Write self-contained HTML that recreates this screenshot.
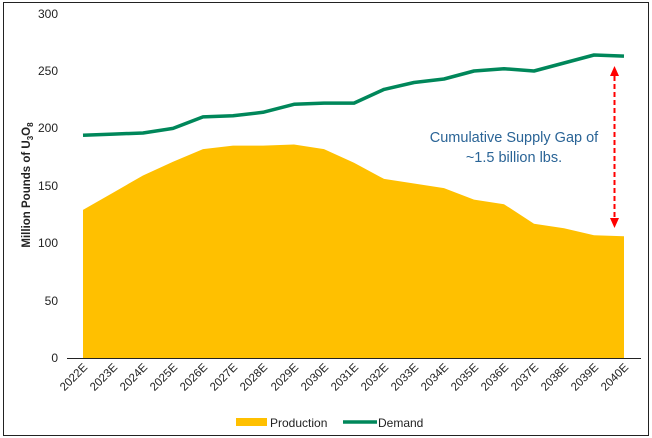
<!DOCTYPE html>
<html><head><style>body{margin:0;background:#fff}svg{display:block}</style></head>
<body>
<svg width="652" height="438" xmlns="http://www.w3.org/2000/svg" font-family="Liberation Sans, Arial, sans-serif">
<rect x="3.5" y="2.5" width="645" height="433" fill="#fff" stroke="#222" stroke-width="1"/>
<polygon fill="#FFC000" points="83,358 83,209.9 113,192.7 143,175.5 173,161.7 203,149.1 233,145.6 263,145.6 294,144.5 324,149.1 354,162.8 384,178.9 414,183.5 444,188.1 474,199.6 504,204.2 534,223.7 564,228.3 594,235.2 624,236.3 624,358"/>
<polyline fill="none" stroke="#00875A" stroke-width="3.5" stroke-linejoin="round" points="83,135.3 113,134.1 143,133 173,128.4 203,116.9 233,115.8 263,112.3 294,104.3 324,103.1 354,103.1 384,89.4 414,82.5 444,79 474,71 504,68.7 534,71 564,63 594,55 624,56.1"/>
<line x1="67" y1="358.5" x2="641" y2="358.5" stroke="#222" stroke-width="1"/>
<g font-size="12" fill="#222" text-anchor="end">
<text x="58" y="362">0</text><text x="58" y="305">50</text><text x="58" y="247">100</text><text x="58" y="190">150</text><text x="58" y="132">200</text><text x="58" y="75">250</text><text x="58" y="18">300</text>
</g>
<text transform="translate(30,185) rotate(-90)" font-size="11.5" font-weight="bold" fill="#222" text-anchor="middle">Million Pounds of U<tspan font-size="8" dy="3">3</tspan><tspan dy="-3">O</tspan><tspan font-size="8" dy="3">8</tspan></text>
<g font-size="11.5" fill="#222" text-anchor="end">
<text transform="translate(88,368) rotate(-45)">2022E</text>
<text transform="translate(118,368) rotate(-45)">2023E</text>
<text transform="translate(148,368) rotate(-45)">2024E</text>
<text transform="translate(178,368) rotate(-45)">2025E</text>
<text transform="translate(208,368) rotate(-45)">2026E</text>
<text transform="translate(238,368) rotate(-45)">2027E</text>
<text transform="translate(268,368) rotate(-45)">2028E</text>
<text transform="translate(299,368) rotate(-45)">2029E</text>
<text transform="translate(329,368) rotate(-45)">2030E</text>
<text transform="translate(359,368) rotate(-45)">2031E</text>
<text transform="translate(389,368) rotate(-45)">2032E</text>
<text transform="translate(419,368) rotate(-45)">2033E</text>
<text transform="translate(449,368) rotate(-45)">2034E</text>
<text transform="translate(479,368) rotate(-45)">2035E</text>
<text transform="translate(509,368) rotate(-45)">2036E</text>
<text transform="translate(539,368) rotate(-45)">2037E</text>
<text transform="translate(569,368) rotate(-45)">2038E</text>
<text transform="translate(599,368) rotate(-45)">2039E</text>
<text transform="translate(629,368) rotate(-45)">2040E</text>
</g>
<g font-size="14.5" fill="#2A6496" text-anchor="middle">
<text x="514" y="142">Cumulative Supply Gap of</text>
<text x="514" y="162">~1.5 billion lbs.</text>
</g>
<line x1="614.5" y1="76" x2="614.5" y2="218" stroke="#FF0000" stroke-width="2" stroke-dasharray="5,3"/>
<polygon points="614.5,66 610,76 619,76" fill="#FF0000"/>
<polygon points="614.5,228 610,218 619,218" fill="#FF0000"/>
<rect x="236" y="418" width="31" height="8" fill="#FFC000"/>
<text x="270" y="427" font-size="12" fill="#222">Production</text>
<line x1="343" y1="422" x2="377" y2="422" stroke="#00875A" stroke-width="3.5"/>
<text x="378" y="427" font-size="12" fill="#222">Demand</text>
</svg>
</body></html>
